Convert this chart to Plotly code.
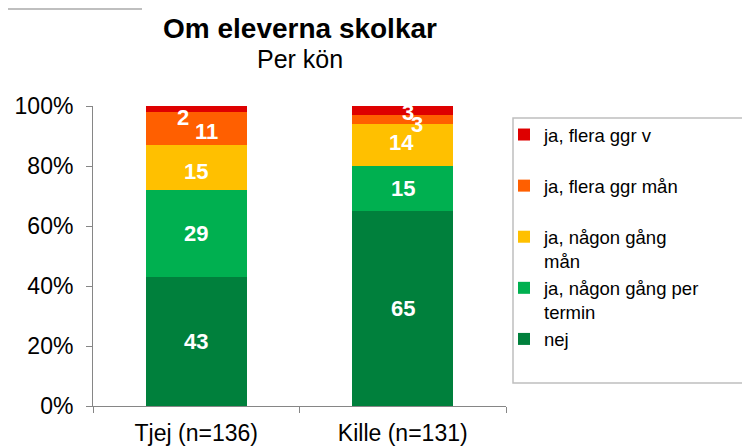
import plotly.graph_objects as go

# ---- data ----
categories = ["Tjej (n=136)", "Kille (n=131)"]
series_names = ["nej", "ja, någon gång per termin", "ja, någon gång mån",
                "ja, flera ggr mån", "ja, flera ggr v"]
nej = [43, 65]
per_termin = [29, 15]
nagon_gang_man = [15, 14]
flera_ggr_man = [11, 3]
flera_ggr_v = [2, 3]
tick_vals = [0, 20, 40, 60, 80, 100]
tick_text = ["0%", "20%", "40%", "60%", "80%", "100%"]

series_values = [nej, per_termin, nagon_gang_man, flera_ggr_man, flera_ggr_v]

# ---- styles ----
colors = ["#00803C", "#00B050", "#FFC000", "#FF5F00", "#DE0000"]
legend_labels = ["nej<br> ", "ja, någon gång per<br>termin", "ja, någon gång<br>mån",
                 "ja, flera ggr mån<br> ", "ja, flera ggr v<br> "]
# label pixel offsets (series index, category index) -> (dx, dy)
label_shift = {(2, 0): (0, -4), (3, 0): (10, -3), (4, 0): (-13, -8),
               (2, 1): (-1, 3), (3, 1): (14, -5), (4, 1): (5, -2)}

FONT = "Liberation Sans, Arial, sans-serif"

W, H = 750, 448
OFF = 8  # page body margin
ml, mr, mt, mb = 85, 252, 98, 50
pw = W - ml - mr
ph = H - mt - mb


def px_to_paper_x(px):
    return (px - OFF - ml) / pw


def px_to_paper_y(py):
    return (H - mb - (py - OFF)) / ph


fig = go.Figure()
for i, (name, vals) in enumerate(zip(series_names, series_values)):
    fig.add_trace(go.Bar(
        x=categories, y=vals, name=legend_labels[i],
        marker=dict(color=colors[i], line=dict(width=0)),
        width=0.49, textposition="none", hoverinfo="skip",
    ))

annotations = []
cum = [0] * len(categories)
for i, vals in enumerate(series_values):
    for j, v in enumerate(vals):
        mid = cum[j] + v / 2
        dx, dy = label_shift.get((i, j), (0, 0))
        annotations.append(dict(
            x=categories[j], y=mid, xref="x", yref="y", text=str(v),
            showarrow=False, xshift=dx, yshift=dy,
            font=dict(family=FONT, size=22, color="white", weight="bold"),
        ))
        cum[j] += v

annotations.append(dict(text="<b>Om eleverna skolkar</b>", xref="paper", yref="paper",
                        x=0.5, y=px_to_paper_y(28), showarrow=False, yanchor="middle",
                        font=dict(family=FONT, size=28, color="black")))
annotations.append(dict(text="Per kön", xref="paper", yref="paper",
                        x=0.5, y=px_to_paper_y(59), showarrow=False, yanchor="middle",
                        font=dict(family=FONT, size=25, color="black")))

fig.update_layout(
    width=W, height=H,
    margin=dict(l=ml, r=mr, t=mt, b=mb, pad=0, autoexpand=False),
    barmode="stack",
    plot_bgcolor="white", paper_bgcolor="white",
    font=dict(family=FONT, size=23, color="black"),
    showlegend=True,
    legend=dict(
        x=px_to_paper_x(504), y=px_to_paper_y(116), xanchor="left", yanchor="top",
        traceorder="reversed", tracegroupgap=0, valign="top",
        font=dict(family=FONT, size=18.5, color="black"),
        bgcolor="rgba(0,0,0,0)", borderwidth=0, itemclick=False,
    ),
    xaxis=dict(
        showline=True, linecolor="#868686", linewidth=1,
        ticks="outside", tickson="boundaries", ticklen=6, tickcolor="#868686",
        tickfont=dict(family=FONT, size=23), showgrid=False, ticklabelstandoff=6,
        automargin=False,
    ),
    yaxis=dict(
        range=[0, 100], tickvals=tick_vals, ticktext=tick_text,
        showline=True, linecolor="#868686", linewidth=1,
        ticks="outside", ticklen=6, tickcolor="#868686",
        tickfont=dict(family=FONT, size=23), showgrid=False, zeroline=False,
        ticklabelstandoff=8, automargin=False,
    ),
    annotations=annotations,
    shapes=[
        dict(type="rect", xref="paper", yref="paper",
             x0=px_to_paper_x(513), x1=px_to_paper_x(770),
             y0=px_to_paper_y(383), y1=px_to_paper_y(118),
             line=dict(color="#BFBFBF", width=1.5), fillcolor="rgba(0,0,0,0)", layer="below"),
        dict(type="line", xref="paper", yref="paper",
             x0=px_to_paper_x(OFF), x1=px_to_paper_x(142),
             y0=px_to_paper_y(OFF + 1), y1=px_to_paper_y(OFF + 1),
             line=dict(color="#BFBFBF", width=2)),
    ],
)

fig.write_html("out.html")
